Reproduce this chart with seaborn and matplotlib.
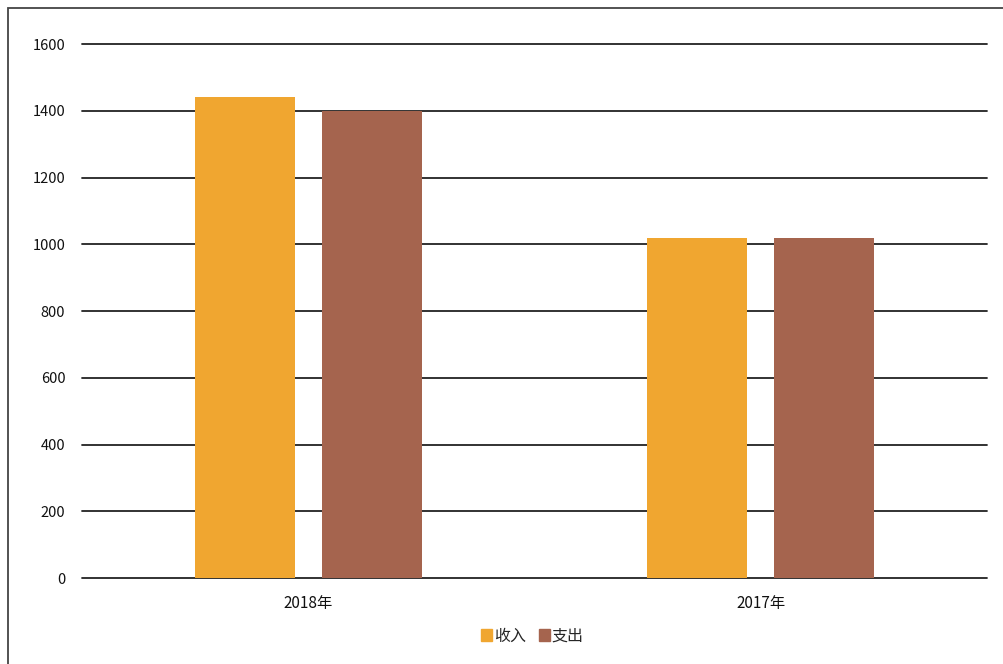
import pandas as pd
import numpy as np
import matplotlib.pyplot as plt
import matplotlib.patches as mpatches
import seaborn as sns

# 数据
years = ['2018年', '2017年']
series = ['收入', '支出']
income = [1440, 1020]
expense = [1400, 1020]
colors = ['#F0A630', '#A5644E']

data = pd.DataFrame({
    'year': years * 2,
    'type': [series[0]] * 2 + [series[1]] * 2,
    'value': income + expense,
})

sns.set_style('white')
plt.rcParams['font.family'] = ['Noto Sans CJK SC', 'DejaVu Sans']

fig = plt.figure(figsize=(10.04, 6.64), dpi=100)
ax = fig.add_axes([0.0817, 0.1295, 0.9013, 0.8042])

sns.barplot(data=data, x='year', y='value', hue='type', palette=colors,
            width=0.562, gap=0.213, saturation=1, linewidth=0,
            ax=ax, legend=False, zorder=3)

ax.set_ylim(0, 1600)
ax.set_yticks(np.arange(0, 1601, 200))
ax.grid(axis='y', color='#222222', linewidth=1.3, zorder=0)
for gl in ax.get_ygridlines():
    gl.set_clip_on(False)
ax.set_axisbelow(True)
for s in ax.spines.values():
    s.set_visible(False)
ax.set_xlabel('')
ax.set_ylabel('')
ax.tick_params(axis='y', length=0, pad=12, labelsize=10.5, labelcolor='#111111')
ax.tick_params(axis='x', length=0, pad=12, labelsize=11, labelcolor='#111111')

# 图例
handles = [mpatches.Patch(color=c, label=s) for c, s in zip(colors, series)]
fig.legend(handles=handles, loc='center', bbox_to_anchor=(0.53, 0.042), ncol=2,
           frameon=False, handlelength=0.7, handleheight=0.7, handletextpad=0.1,
           columnspacing=0.8, fontsize=11.5)

# 外框
border = mpatches.Rectangle((0.0075, -0.05), 1.2, 1.0387, transform=fig.transFigure,
                            fill=False, edgecolor='#444444', linewidth=1.3)
fig.patches.append(border)

fig.savefig('out.png', dpi=100)
